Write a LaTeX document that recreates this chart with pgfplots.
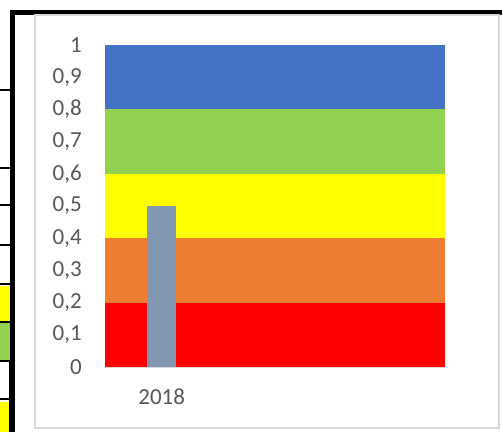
\documentclass[border=0pt]{standalone}
\usepackage{fontspec}
\setmainfont{Carlito}
\usepackage{pgfplots}
\pgfplotsset{compat=1.18}

\definecolor{bandblue}{HTML}{4472C4}
\definecolor{bandgreen}{HTML}{92D050}
\definecolor{bandyellow}{HTML}{FFFF00}
\definecolor{bandorange}{HTML}{ED7D31}
\definecolor{bandred}{HTML}{FF0000}
\definecolor{barcol}{HTML}{8497B0}
\definecolor{labelgray}{HTML}{595959}
\definecolor{framegray}{HTML}{D9D9D9}

\begin{document}
\begin{tikzpicture}[x=1pt,y=1pt]
\useasboundingbox (0,0) rectangle (502,432);

% worksheet cells behind the chart
\fill[bandyellow] (0,111) rectangle (11,146);
\fill[bandgreen]  (0,72)  rectangle (11,109);
\fill[bandyellow] (0,0)   rectangle (11,30);
\foreach \yy in {342,264,227,187,148,110,71,33}
  \draw[line width=2] (0,\yy) -- (11,\yy);
\draw[line width=5, line join=miter] (12.5,0) -- (12.5,419.5) -- (502,419.5);
\fill (9,0) rectangle (15,72);

% chart area
\filldraw[fill=white, draw=framegray, line width=1.5] (35,4) rectangle (499,417);

\begin{axis}[
  at={(105pt,65pt)}, anchor=south west,
  scale only axis, width=340pt, height=322pt,
  xmin=0, xmax=3, ymin=0, ymax=1,
  axis line style={draw=none},
  major tick length=0pt,
  ytick={0,0.1,...,1.0},
  xtick={0.5}, xticklabels={2018},
  /pgf/number format/.cd, use comma, fixed, precision=1,
  assume math mode=true,
  /pgfplots/.cd,
  ticklabel style={font=\fontsize{23}{27}\selectfont, text=labelgray},
  yticklabel style={anchor=east, inner sep=0pt, xshift=-23pt},
  xticklabel style={anchor=north, inner sep=0pt, yshift=-22pt},
  clip=false,
]
% rating bands
\addplot[fill=bandred,    draw=none] coordinates {(0,0.0) (3,0.0) (3,0.2) (0,0.2)} -- cycle;
\addplot[fill=bandorange, draw=none] coordinates {(0,0.2) (3,0.2) (3,0.4) (0,0.4)} -- cycle;
\addplot[fill=bandyellow, draw=none] coordinates {(0,0.4) (3,0.4) (3,0.6) (0,0.6)} -- cycle;
\addplot[fill=bandgreen,  draw=none] coordinates {(0,0.6) (3,0.6) (3,0.8) (0,0.8)} -- cycle;
\addplot[fill=bandblue,   draw=none] coordinates {(0,0.8) (3,0.8) (3,1.0) (0,1.0)} -- cycle;
% baseline
\addplot[framegray, line width=1] coordinates {(0,0) (3,0)};
% 2018 value
\addplot[ybar, bar width=29pt, fill=barcol, draw=none] coordinates {(0.5,0.5)};
\end{axis}
\end{tikzpicture}
\end{document}
